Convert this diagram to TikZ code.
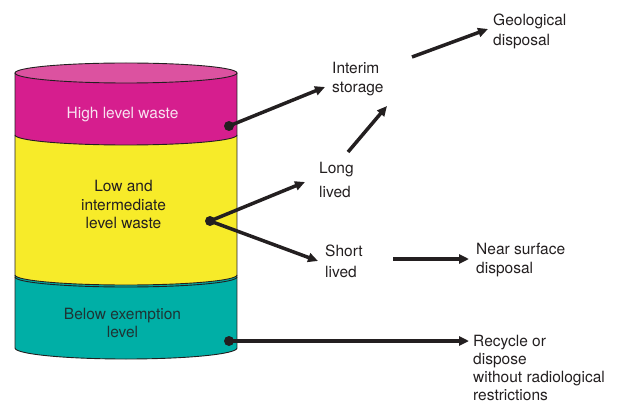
\documentclass[tikz,border=0pt]{standalone}
\usepackage{fontspec}
\setmainfont{TeX Gyre Heros}
\usepackage{xcolor}
\usetikzlibrary{arrows.meta,positioning,calc}
\definecolor{hlwpink}{RGB}{214,30,142}
\definecolor{hlwtop}{RGB}{220,82,160}
\definecolor{lilwyellow}{RGB}{247,235,41}
\definecolor{exteal}{RGB}{0,175,166}
\definecolor{inkgray}{RGB}{35,31,32}
\definecolor{pinktext}{RGB}{248,226,240}
\definecolor{tealtext}{RGB}{30,52,52}

\begin{document}
\begin{tikzpicture}[x=1pt,y=1pt,
	lbl/.style={align=left, inner sep=0pt, text=inkgray, font=\fontsize{15.5}{18.5}\selectfont},
	flow/.style={line width=3.5pt, draw=inkgray, -{Triangle[length=10pt,width=9pt]}},
	band/.style={draw=inkgray, line width=0.9pt},
	dot/.style={circle, fill=inkgray, inner sep=0pt, minimum size=10pt}]
		\useasboundingbox (0,0) rectangle (620,-403);
		\fill[exteal] (15,-275) rectangle (237,-348);
		\fill[exteal] (126,-348) ellipse [x radius=111pt, y radius=11pt];
		\fill[lilwyellow] (15,-135) rectangle (237,-275);
		\fill[lilwyellow] (126,-275) ellipse [x radius=111pt, y radius=10pt];
		\fill[hlwpink] (15,-73) rectangle (237,-135);
		\fill[hlwpink] (126,-135) ellipse [x radius=111pt, y radius=10pt];
		\filldraw[fill=hlwtop, band] (126,-73) ellipse [x radius=111pt, y radius=10pt];
		\draw[band] (15,-73) -- (15,-348) arc [start angle=180, end angle=360, x radius=111pt, y radius=11pt] -- (237,-73);
		\draw[band] (15,-135) arc [start angle=180, end angle=360, x radius=111pt, y radius=10pt];
		\draw[band] (15,-275) arc [start angle=180, end angle=360, x radius=111pt, y radius=10pt];
		\draw[band] (15,-277) arc [start angle=180, end angle=360, x radius=111pt, y radius=10pt];
		\node[lbl, align=center, text=pinktext] (hlw) at (122.5,-114.7) {High level waste};
		\node[lbl, align=center] (lilw) at (123.5,-204.5) {Low and\\intermediate\\level waste};
		\node[lbl, align=center, text=tealtext] (bel) at (122.5,-323) {Below exemption\\level};
		\node[dot] (hlwdot) at (229,-126) {};
		\node[dot] (lilwdot) at (210,-221) {};
		\node[dot] (beldot) at (229,-341) {};
		\node[lbl, anchor=west, font=\fontsize{15.5}{19.5}\selectfont] (interim) at (332,-79) {Interim\\storage};
		\node[lbl, anchor=west, font=\fontsize{15.5}{19.5}\selectfont] (geo) at (493,-31.5) {Geological\\disposal};
		\node[lbl, anchor=west, font=\fontsize{15.5}{24}\selectfont] (long) at (319,-179.5) {Long\\lived};
		\node[lbl, anchor=west, font=\fontsize{15.5}{21}\selectfont] (short) at (325,-261.5) {Short\\lived};
		\node[lbl, anchor=west, font=\fontsize{15.5}{19}\selectfont] (near) at (476,-260.5) {Near surface\\disposal};
		\node[lbl, anchor=west, font=\fontsize{15.5}{18}\selectfont] (recycle) at (473,-368) {Recycle or\\dispose\\without radiological\\restrictions};
		\draw[flow] (hlwdot.center) -- ($(interim.west)+(-7,-8)$);
		\draw[flow] ($(long.west)+(29,27.5)$) -- ($(interim.west)+(55,-27)$);
		\draw[flow] ($(interim.west)+(80,22)$) -- ($(geo.west)+(-5,2.5)$);
		\draw[flow] (lilwdot.center) -- ($(long.west)+(-14,-2.5)$);
		\draw[flow] (lilwdot.center) -- ($(short.west)+(-7,0.5)$);
		\draw[flow] ($(short.west)+(68,2.5)$) -- ($(near.west)+(-7,1.5)$);
		\draw[flow] (beldot.center) -- ($(recycle.west)+(-4,27)$);
	\end{tikzpicture}
\end{document}
